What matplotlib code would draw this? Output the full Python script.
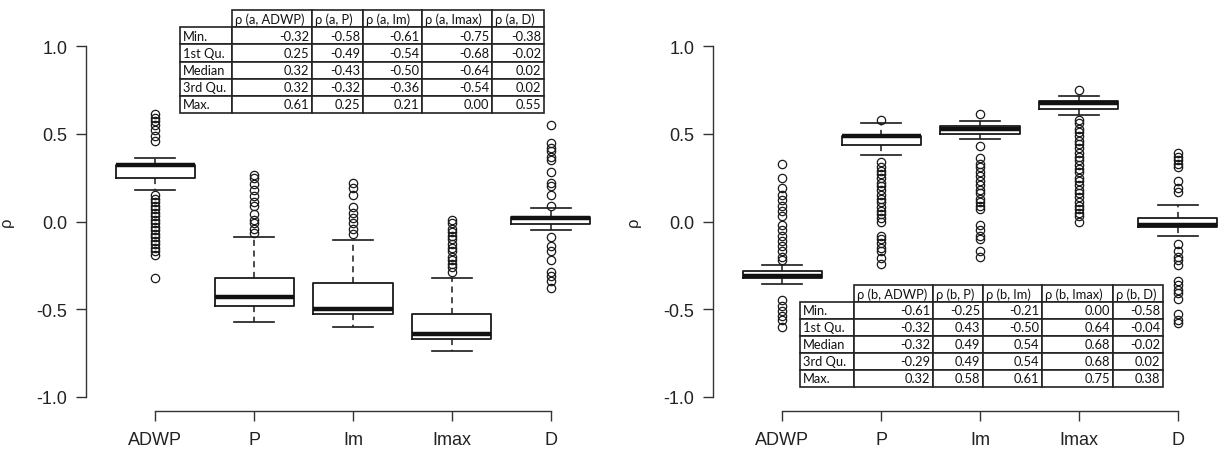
import matplotlib
matplotlib.use('Agg')
import matplotlib.pyplot as plt

plt.rcParams['font.family'] = ['Liberation Sans', 'DejaVu Sans']
plt.rcParams['axes.unicode_minus'] = False

categories = ['ADWP', 'P', 'Im', 'Imax', 'D']
yticks = [-1.0, -0.5, 0.0, 0.5, 1.0]
ytick_labels = ['-1.0', '-0.5', '0.0', '0.5', '1.0']

# panel a: box stats
a_q1 = [0.25, -0.48, -0.53, -0.67, -0.014]
a_med = [0.32, -0.43, -0.50, -0.64, 0.018]
a_q3 = [0.32, -0.32, -0.35, -0.53, 0.024]
a_whislo = [0.18, -0.57, -0.60, -0.74, -0.05]
a_whishi = [0.36, -0.09, -0.105, -0.32, 0.077]
a_fliers = [
    [0.61, 0.59, 0.57, 0.55, 0.52, 0.49, 0.46, 0.15, 0.13, 0.11, 0.09, 0.07,
     0.05, 0.03, 0.01, -0.01, -0.03, -0.05, -0.07, -0.09, -0.11, -0.13,
     -0.15, -0.17, -0.19, -0.32],
    [0.265, 0.246, 0.213, 0.181, 0.147, 0.109, 0.09, 0.043, 0.01, -0.009,
     -0.043, -0.067],
    [0.22, 0.19, 0.15, 0.08, 0.05, 0.02, -0.01, -0.04, -0.07],
    [0.01, -0.01, -0.04, -0.06, -0.08, -0.10, -0.13, -0.15, -0.17, -0.20,
     -0.22, -0.24, -0.26, -0.29],
    [0.55, 0.45, 0.42, 0.40, 0.37, 0.35, 0.28, 0.22, 0.20, 0.15, 0.09,
     -0.09, -0.14, -0.17, -0.22, -0.29, -0.31, -0.34, -0.38],
]

# panel b
b_q1 = [-0.32, 0.435, 0.50, 0.644, -0.03]
b_med = [-0.31, 0.49, 0.53, 0.678, -0.02]
b_q3 = [-0.28, 0.49, 0.545, 0.687, 0.02]
b_whislo = [-0.356, 0.38, 0.47, 0.606, -0.085]
b_whishi = [-0.247, 0.56, 0.574, 0.716, 0.094]
b_fliers = [
    [0.33, 0.25, 0.19, 0.15, 0.12, 0.09, 0.06, 0.03, -0.02, -0.05, -0.08,
     -0.11, -0.14, -0.17, -0.20, -0.22, -0.45, -0.48, -0.51, -0.54, -0.56,
     -0.60],
    [0.58, 0.34, 0.31, 0.29, 0.27, 0.25, 0.22, 0.20, 0.18, 0.15, 0.13, 0.11,
     0.08, 0.06, 0.04, 0.02, 0.00, -0.08, -0.10, -0.12, -0.15, -0.17, -0.21,
     -0.24],
    [0.61, 0.43, 0.36, 0.33, 0.31, 0.28, 0.26, 0.23, 0.21, 0.18, 0.16, 0.13,
     0.11, 0.09, 0.07, -0.02, -0.05, -0.08, -0.10, -0.17, -0.20],
    [0.75, 0.58, 0.56, 0.53, 0.51, 0.49, 0.46, 0.44, 0.42, 0.39, 0.37, 0.35,
     0.32, 0.30, 0.28, 0.25, 0.23, 0.21, 0.18, 0.16, 0.14, 0.11, 0.09, 0.07,
     0.05, 0.03, 0.00],
    [0.39, 0.37, 0.35, 0.33, 0.31, 0.23, 0.19, 0.17, -0.13, -0.17, -0.20,
     -0.22, -0.25, -0.34, -0.36, -0.39, -0.41, -0.44, -0.53, -0.56, -0.58],
]

# summary tables
row_names = ['Min.', '1st Qu.', 'Median', '3rd Qu.', 'Max.']
a_header = ['ρ (a, ADWP)', 'ρ (a, P)', 'ρ (a, Im)', 'ρ (a, Imax)', 'ρ (a, D)']
a_table = [
    ['-0.32', '-0.58', '-0.61', '-0.75', '-0.38'],
    ['0.25', '-0.49', '-0.54', '-0.68', '-0.02'],
    ['0.32', '-0.43', '-0.50', '-0.64', '0.02'],
    ['0.32', '-0.32', '-0.36', '-0.54', '0.02'],
    ['0.61', '0.25', '0.21', '0.00', '0.55'],
]
b_header = ['ρ (b, ADWP)', 'ρ (b, P)', 'ρ (b, Im)', 'ρ (b, Imax)', 'ρ (b, D)']
b_table = [
    ['-0.61', '-0.25', '-0.21', '0.00', '-0.58'],
    ['-0.32', '0.43', '-0.50', '0.64', '-0.04'],
    ['-0.32', '0.49', '0.54', '0.68', '-0.02'],
    ['-0.29', '0.49', '0.54', '0.68', '0.02'],
    ['0.32', '0.58', '0.61', '0.75', '0.38'],
]

W, H = 1220, 452
fig = plt.figure(figsize=(W / 100, H / 100), dpi=100)


def draw_panel(ax, q1, med, q3, lo, hi, fliers):
    stats = []
    for i in range(len(categories)):
        stats.append(dict(q1=q1[i], med=med[i], q3=q3[i], whislo=lo[i],
                          whishi=hi[i], fliers=fliers[i]))
    pos = list(range(1, len(categories) + 1))
    ax.bxp(stats, positions=pos, widths=0.8,
           boxprops=dict(color='#1a1a1a', linewidth=1.3),
           medianprops=dict(color='#111111', linewidth=3.2),
           whiskerprops=dict(color='#1a1a1a', linewidth=1.1, linestyle=(0, (4, 3))),
           capprops=dict(color='#1a1a1a', linewidth=1.2),
           flierprops=dict(marker='o', markerfacecolor='none', markeredgecolor='#1a1a1a',
                           markersize=6, markeredgewidth=0.9))
    ax.set_xlim(0.3, 5.7)
    ax.set_ylim(-1.08, 1.08)
    ax.set_xticks(pos, labels=categories)
    ax.set_yticks(yticks, labels=ytick_labels)
    for s in ['top', 'right']:
        ax.spines[s].set_visible(False)
    ax.spines['left'].set_bounds(-1, 1)
    ax.spines['bottom'].set_bounds(1, 5)
    for s in ['left', 'bottom']:
        ax.spines[s].set_linewidth(1.0)
        ax.spines[s].set_color('#333333')
    ax.tick_params(axis='both', direction='out', length=7.5, width=1.0,
                   color='#333333', labelsize=13, labelcolor='#222222')
    ax.tick_params(axis='x', pad=7)
    ax.tick_params(axis='y', pad=6)
    ax.set_ylabel('ρ', fontsize=12, color='#222222')
    ax.yaxis.set_label_coords(-0.135, 0.5)


def draw_table(x0, y0, x1, y1, header, values, widths):
    tax = fig.add_axes([x0 / W, 1 - y1 / H, (x1 - x0) / W, (y1 - y0) / H])
    tax.axis('off')
    cells = [[r] + v for r, v in zip(row_names, values)]
    t = tax.table(cellText=cells, colLabels=[''] + header, colWidths=widths,
                  cellLoc='right', bbox=[0, 0, 1, 1])
    t.auto_set_font_size(False)
    t.set_fontsize(9.3)
    for (r, c), cell in t.get_celld().items():
        cell.set_linewidth(1.2)
        cell.set_edgecolor('#222222')
        cell.PAD = 3.0 / widths[c]
        cell.set_text_props(family=['Lato', 'DejaVu Sans'], color='#111111')
        if r == 0 or c == 0:
            cell.set_text_props(ha='left')
    t[0, 0].visible_edges = ''


ax1 = fig.add_axes([86 / W, 40 / H, 534 / W, 379 / H])
draw_panel(ax1, a_q1, a_med, a_q3, a_whislo, a_whishi, a_fliers)
ax2 = fig.add_axes([713 / W, 40 / H, 534 / W, 379 / H])
draw_panel(ax2, b_q1, b_med, b_q3, b_whislo, b_whishi, b_fliers)

draw_table(180, 11, 544, 114, a_header, a_table, [52, 80, 51, 59, 70, 52])
draw_table(800, 286, 1163, 388, b_header, b_table, [54, 79, 50, 59, 71, 50])

fig.savefig('out.png', dpi=100)
